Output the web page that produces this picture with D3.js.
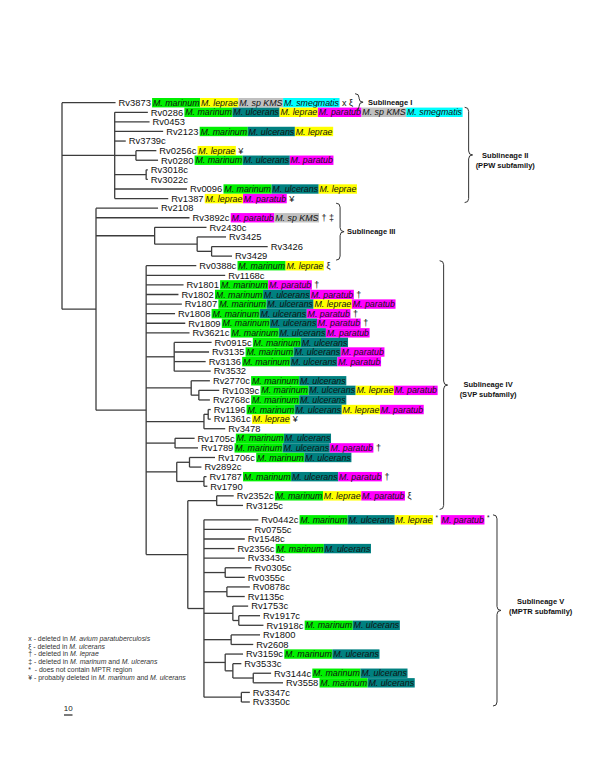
<!DOCTYPE html>
<html><head><meta charset="utf-8">
<script src="https://cdn.jsdelivr.net/npm/d3@7/dist/d3.min.js"></script>
<style>body{margin:0;background:#fff}svg{display:block}</style>
</head><body>
<svg id="c" width="600" height="776"></svg>
<script>
// Tree: [node, parent, distance from root (scale-bar units)] — leaves listed in display order
const treeNodes = [
 ["root","",0],
 ["Rv3873","root",63],
 ["nII","root",62],
  ["Rv0286","nII",101],["Rv0453","nII",103],["Rv2123","nII",119],["Rv3739c","nII",75],
  ["nIIa","nII",87],["Rv0256c","nIIa",111],["Rv0280","nIIa",113],
  ["nIIb","nII",99],["Rv3018c","nIIb",101],["Rv3022c","nIIb",101],
  ["Rv0096","nII",147],["Rv1387","nII",125],
 ["nB","root",40],
  ["Rv2108","nB",113],["Rv3892c","nB",150],
  ["nIII","nB",109],["Rv2430c","nIII",170],["nIIIa","nIII",159],["Rv3425","nIIIa",193],
   ["nIIIb","nIIIa",176],["Rv3426","nIIIb",242],["Rv3429","nIIIb",200],
  ["nIV","nB",99],
   ["Rv0388c","nIV",158],["Rv1168c","nIV",192],["Rv1801","nIV",143],["Rv1802","nIV",137],
   ["Rv1807","nIV",141],["Rv1808","nIV",133],["Rv1809","nIV",145],["Rv3621c","nIV",150],
   ["c1","nIV",132],["Rv0915c","c1",176],["Rv3135","c1",173],["Rv3136","c1",169],["Rv3532","c1",175],
   ["c2","nIV",152],["Rv2770c","c2",174],["c2a","c2",161],["Rv1039c","c2a",185],["Rv2768c","c2a",174],
   ["c3","nIV",167],["c3a","c3",172],["Rv1196","c3a",175],["Rv1361c","c3a",175],["Rv3478","c3",192],
   ["c4","nIV",133],["Rv1705c","c4",156],["Rv1789","c4",160],
   ["c5","nIV",135],["c5a","c5",150],["Rv1706c","c5a",180],["Rv2892c","c5a",164],
    ["c5b","c5",167],["Rv1787","c5b",170],["Rv1790","c5b",171],
   ["nD","nIV",148],
    ["nE","nD",182],["Rv2352c","nE",202],["Rv3125c","nE",213],
    ["nV","nD",167],
     ["Rv0442c","nV",231],["Rv0755c","nV",223],["Rv1548c","nV",215],["Rv2356c","nV",203],["Rv3343c","nV",215],
     ["v1","nV",192],["Rv0305c","v1",223],["Rv0355c","v1",215],
     ["v2","nV",194],["Rv0878c","v2",221],["Rv1135c","v2",215],
     ["v3","nV",201],["Rv1753c","v3",219],["v3a","v3",208],["Rv1917c","v3a",233],["Rv1918c","v3a",237],
     ["v4","nV",199],["Rv1800","v4",233],["Rv2608","v4",225],
     ["v5","nV",192],["Rv3159c","v5",213],["v5a","v5",201],["Rv3533c","v5a",211],
      ["v5b","v5a",225],["Rv3144c","v5b",246],["Rv3558","v5b",260],
     ["v6","nV",211],["Rv3347c","v6",221],["Rv3350c","v6",221]
];
const gapBefore = "Rv0442c";

const speciesCodes  = ["mar","ulc","lep","par","kms","sme"];
const speciesLabels = ["M. marinum","M. ulcerans","M. leprae","M. paratub","M. sp KMS","M. smegmatis"];
const speciesColors = ["#00f000","#008080","#ffff00","#ff00ff","#c0c0c0","#00ffff"];

const leafAnnotations = [
 ["Rv3873","mar lep kms sme x ξ"],
 ["Rv0286","mar ulc lep par kms sme"],
 ["Rv2123","mar ulc lep"],
 ["Rv0256c","lep ¥"],
 ["Rv0280","mar ulc par"],
 ["Rv0096","mar ulc lep"],
 ["Rv1387","lep par ¥"],
 ["Rv3892c","par kms † ‡"],
 ["Rv0388c","mar lep ξ"],
 ["Rv1801","mar par †"],
 ["Rv1802","mar ulc par †"],
 ["Rv1807","mar ulc lep par"],
 ["Rv1808","mar ulc par †"],
 ["Rv1809","mar ulc par †"],
 ["Rv3621c","mar ulc par"],
 ["Rv0915c","mar ulc"],
 ["Rv3135","mar ulc par"],
 ["Rv3136","mar ulc par"],
 ["Rv2770c","mar ulc"],
 ["Rv1039c","mar ulc lep par"],
 ["Rv2768c","mar ulc"],
 ["Rv1196","mar ulc lep par"],
 ["Rv1361c","lep ¥"],
 ["Rv1705c","mar ulc"],
 ["Rv1789","mar ulc par †"],
 ["Rv1706c","mar ulc"],
 ["Rv1787","mar ulc par †"],
 ["Rv2352c","mar lep par ξ"],
 ["Rv0442c","mar ulc lep * par *"],
 ["Rv2356c","mar ulc"],
 ["Rv1918c","mar ulc"],
 ["Rv3159c","mar ulc"],
 ["Rv3144c","mar ulc"],
 ["Rv3558","mar ulc"]
];

const sublineages = [
 ["Sublineage I","","Rv3873","Rv3873"],
 ["Sublineage II","(PPW subfamily)","Rv0286","Rv1387"],
 ["Sublineage III","","Rv2108","Rv3429"],
 ["Sublineage IV","(SVP subfamily)","Rv0388c","Rv3125c"],
 ["Sublineage V","(MPTR subfamily)","Rv0442c","Rv3350c"]
];

const legendLines = [
 "x - deleted in _M. avium paratuberculosis_",
 "ξ - deleted in _M. ulcerans_",
 "† - deleted in _M. leprae_",
 "‡ - deleted in _M. marinum_ and _M. ulcerans_",
 "*  \u00a0- does not contain MPTR region",
 "¥ - probably deleted in _M. marinum_ and _M. ulcerans_"
];
const scaleBarValue = 10;

// ---- layout constants (styling, not data) ----
const labelGap = [5, 3, 3, 12, 8];
const labelDy = [0, 0, 0, -1, -9.5];
const FONT = "'Liberation Sans', Arial, sans-serif";
const SP_FONT = 8.85;

const svg = d3.select("#c");
const root = d3.stratify().id(d => d[0]).parentId(d => d[1] || null)(treeNodes);
const x = d3.scaleLinear().domain([0, 10]).range([62, 70.5]);
const leaves = root.leaves();
const gapIdx = leaves.findIndex(l => l.id === gapBefore);
const rowOf = new Map(leaves.map((l, i) => [l.id, i + (i >= gapIdx ? 0.5 : 0)]));
const y = d3.scaleLinear().domain([0, leaves.length - 0.5]).range([102.7, 702]);

root.eachAfter(n => {
  n.px = x(n.data[2]);
  if (!n.children) n.py = y(rowOf.get(n.id));
  else n.py = (n.children[0].py + n.children[n.children.length - 1].py) / 2;
});

const gLines = svg.append("g").attr("stroke", "#3c3c3c").attr("stroke-width", 1.3).attr("fill", "none");
root.descendants().forEach(n => {
  if (n.parent) gLines.append("line").attr("x1", n.parent.px).attr("x2", n.px).attr("y1", n.py).attr("y2", n.py);
  if (n.children) gLines.append("line").attr("x1", n.px).attr("x2", n.px)
    .attr("y1", n.children[0].py).attr("y2", n.children[n.children.length - 1].py);
});

const spIndex = new Map(speciesCodes.map((c, i) => [c, i]));
const annot = new Map(leafAnnotations.map(d => [d[0], d[1].split(" ")]));
const rowEnd = new Map();
const gLab = svg.append("g").attr("font-family", FONT).attr("font-size", 9.4).attr("fill", "#111");
leaves.forEach(l => {
  const t = gLab.append("text").attr("x", l.px + 3).attr("y", l.py).attr("dy", "0.35em").text(l.id);
  let cx = l.px + 3 + t.node().getComputedTextLength();
  let prevSp = false;
  (annot.get(l.id) || []).forEach(tok => {
    if (spIndex.has(tok)) {
      if (!prevSp) cx += 1.2;
      const i = spIndex.get(tok);
      const r = gLab.append("rect").attr("y", l.py - 4.7).attr("height", 9.4).attr("fill", speciesColors[i]);
      const tt = gLab.append("text").attr("x", cx + 0.8).attr("y", l.py).attr("dy", "0.35em")
        .attr("font-size", SP_FONT).attr("font-style", "italic").text(speciesLabels[i]);
      const w = tt.node().getComputedTextLength() + 1.4;
      r.attr("x", cx).attr("width", w);
      cx += w; prevSp = true;
    } else {
      cx += 2.5;
      const small = tok === "*";
      const tt = gLab.append("text").attr("x", cx).attr("y", l.py + (small ? -2 : 0)).attr("dy", "0.35em")
        .attr("font-size", small ? 6.5 : 9).text(tok);
      cx += tt.node().getComputedTextLength() + (small ? 1.5 : 0);
      prevSp = false;
    }
  });
  rowEnd.set(l.id, cx);
});

function brace(x0, y0, y1, w) {
  const xm = x0 + w / 2, x1 = x0 + w, ym = (y0 + y1) / 2, r = Math.min(4, (y1 - y0) / 4);
  return `M${x0},${y0} Q${xm},${y0} ${xm},${y0 + r} L${xm},${ym - r} Q${xm},${ym} ${x1},${ym}` +
         ` Q${xm},${ym} ${xm},${ym + r} L${xm},${y1 - r} Q${xm},${y1} ${x0},${y1}`;
}

const gBr = svg.append("g");
sublineages.forEach((s, k) => {
  const i0 = leaves.findIndex(l => l.id === s[2]), i1 = leaves.findIndex(l => l.id === s[3]);
  const range = leaves.slice(i0, i1 + 1);
  const x0 = d3.max(range, l => rowEnd.get(l.id)) + 2;
  let y0 = range[0].py - 5, y1 = range[range.length - 1].py + 4;
  if (y1 - y0 < 17) { const c = (y0 + y1) / 2; y0 = c - 8.5; y1 = c + 8.5; }
  const w = 8, tipX = x0 + w, ym = (y0 + y1) / 2;
  gBr.append("path").attr("d", brace(x0, y0, y1, w)).attr("fill", "none").attr("stroke", "#333").attr("stroke-width", 1);
  const g = gBr.append("g").attr("font-family", FONT).attr("font-size", 7.5).attr("font-weight", "bold").attr("fill", "#111");
  if (!s[1]) {
    g.append("text").attr("x", tipX + labelGap[k]).attr("y", ym + labelDy[k]).attr("dy", "0.35em").text(s[0]);
  } else {
    const a = g.append("text").attr("y", ym + labelDy[k]).attr("dy", "0.35em").attr("text-anchor", "middle").text(s[0]);
    const b = g.append("text").attr("y", ym + labelDy[k] + 10).attr("dy", "0.35em").attr("text-anchor", "middle").text(s[1]);
    const mw = Math.max(a.node().getComputedTextLength(), b.node().getComputedTextLength());
    const cxm = tipX + labelGap[k] + mw / 2;
    a.attr("x", cxm); b.attr("x", cxm);
  }
});

const gLeg = svg.append("g").attr("font-family", FONT).attr("font-size", 6.9).attr("fill", "#333");
legendLines.forEach((line, i) => {
  const t = gLeg.append("text").attr("x", 28.3).attr("y", 638.3 + i * 7.8).attr("dy", "0.35em");
  line.split("_").forEach((seg, j) => {
    t.append("tspan").attr("font-style", j % 2 ? "italic" : "normal").text(seg);
  });
});

const sb0 = 64, sbLen = x(scaleBarValue) - x(0);
svg.append("line").attr("x1", sb0).attr("x2", sb0 + sbLen).attr("y1", 715).attr("y2", 715)
  .attr("stroke", "#333").attr("stroke-width", 1.3);
svg.append("text").attr("x", sb0 + sbLen / 2).attr("y", 707.7).attr("dy", "0.35em").attr("text-anchor", "middle")
  .attr("font-family", FONT).attr("font-size", 8).attr("fill", "#222").text(scaleBarValue);
</script>
</body></html>
